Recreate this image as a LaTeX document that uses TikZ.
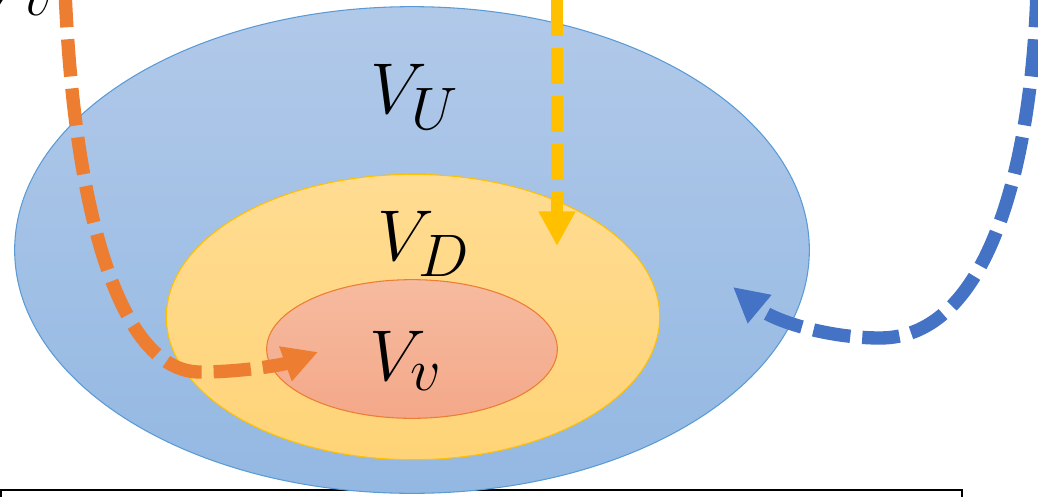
\documentclass[tikz,border=0pt]{standalone}
\usetikzlibrary{arrows.meta,shapes.geometric}
\definecolor{SBlueTop}{HTML}{B1C9E9}
\definecolor{SBlueBot}{HTML}{93B8E2}
\definecolor{SBlueLine}{HTML}{5B9BD5}
\definecolor{SGoldTop}{HTML}{FFDC92}
\definecolor{SGoldBot}{HTML}{FFD478}
\definecolor{SGoldLine}{HTML}{FFC000}
\definecolor{SPeachTop}{HTML}{F6BBA0}
\definecolor{SPeachBot}{HTML}{F4A889}
\definecolor{SPeachLine}{HTML}{ED7D31}
\definecolor{SArrBlue}{HTML}{4472C4}
\tikzset{
  blob/.style={ellipse,inner sep=0pt,line width=0.8pt},
  blobblue/.style={blob,draw=SBlueLine,top color=SBlueTop,bottom color=SBlueBot},
  blobgold/.style={blob,draw=SGoldLine,top color=SGoldTop,bottom color=SGoldBot},
  blobpeach/.style={blob,draw=SPeachLine,top color=SPeachTop,bottom color=SPeachBot},
  setname/.style={font=\Huge,scale=2.17,transform shape,inner sep=0pt,anchor=base west},
  flow/.style={-{Triangle[length=26pt,width=26pt]},line width=10pt,
               dash pattern=on 28pt off 9pt},
  floworange/.style={flow,SPeachLine},
  flowgold/.style={flow,SGoldLine,line width=9pt,dash pattern=on 27pt off 9pt},
  flowblue/.style={flow,SArrBlue},
}
\begin{document}
\begin{tikzpicture}[x=0.75pt,y=-0.75pt]
  \useasboundingbox (0,0) rectangle (1038,496);

  % frame below the sets
  \draw[line width=1.5pt] (1,490) rectangle (962,540);

  % nested sets
  \node[blobblue,minimum width=596pt,minimum height=365pt] (setU) at (412,250) {};
  \node[blobgold,minimum width=370pt,minimum height=214pt] (setD) at (413,317) {};
  \node[blobpeach,minimum width=218pt,minimum height=104pt] (setv) at (412,349) {};

  \node[setname] (nameU) at (370,113) {$V_U$};
  \node[setname] (nameD) at (377,260) {$V_D$};
  \node[setname] (namev) at (369,380) {$V_v$};
  \node[setname] (namecut) at (-19,5) {$V_v$};

  % incoming moves
  \coordinate (orangestart) at (65,-10);
  \coordinate (orangeend) at (318,352);
  \draw[floworange] (orangestart) .. controls (75,230) and (125,372) .. (200,372)
    .. controls (245,372) and (285,364) .. (orangeend);

  \coordinate (goldstart) at (557,0);
  \coordinate (goldend) at (557,246);
  \draw[flowgold] (goldstart) -- (goldend);

  \coordinate (bluestart) at (1037,-10);
  \coordinate (blueend) at (733,287);
  \draw[flowblue] (bluestart) .. controls (1032,160) and (990,338) .. (880,338)
    .. controls (830,338) and (775,322) .. (blueend);
\end{tikzpicture}
\end{document}
